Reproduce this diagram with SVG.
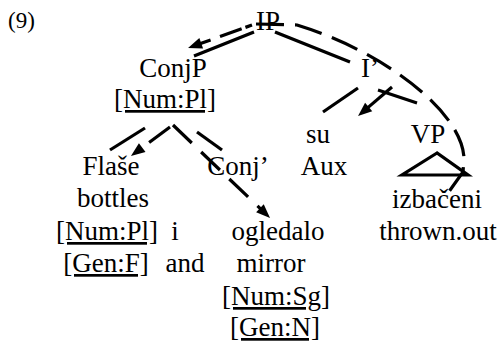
<svg xmlns="http://www.w3.org/2000/svg" width="504" height="344" viewBox="0 0 504 344">
<style>
text{font-family:'Liberation Serif',serif;font-size:27px;fill:#000;text-anchor:middle}
.u{text-decoration:underline}
.num{font-size:23px;text-anchor:start}
.e{stroke:#000;stroke-width:3.2;fill:none}
.d{stroke-dasharray:26 13}
</style>
<defs>
<marker id="ah" markerUnits="userSpaceOnUse" markerWidth="14" markerHeight="11" refX="3" refY="5.5" orient="auto" overflow="visible"><path d="M0,0L14,5.5L0,11z" fill="#000"/></marker>
</defs>
<g font-family="Liberation Serif">
<text class="num" x="8" y="28">(9)</text>
<g id="connectors">
<line class="e" x1="254" y1="32" x2="194" y2="56"/>
<line class="e" x1="252" y1="25" x2="198.4" y2="44.3" stroke-dasharray="7 4 23 10 40" marker-end="url(#ah)"/>
<line class="e" x1="275" y1="32" x2="350" y2="62"/>
<path class="e" d="M256,24 L297,25 C385,52 462,112 464,158 L463,172 L448,193" stroke-dasharray="28 11"/>
<line class="e" x1="358" y1="88" x2="323" y2="112"/>
<line class="e" x1="378" y1="90" x2="417" y2="103"/>
<line class="e" x1="392" y1="87" x2="366.4" y2="108.9" marker-end="url(#ah)"/>
<line class="e" x1="145" y1="128" x2="110" y2="150"/>
<line class="e" x1="170" y1="127" x2="139.8" y2="149.4" stroke-dasharray="26 20" marker-end="url(#ah)"/>
<line class="e" x1="197" y1="132" x2="222" y2="150"/>
<line class="e d" x1="173" y1="125" x2="262.1" y2="210.4" marker-end="url(#ah)"/>
<polygon class="e" points="437,153 402,175 468,175"/>
</g>
<g id="IP"><text x="268" y="30">IP</text></g>
<g id="ConjP"><text x="173" y="77">ConjP</text><text class="u" x="165" y="108">[Num:Pl]</text></g>
<g id="Ibar"><text x="370" y="77">I’</text></g>
<g id="su"><text x="318" y="143">su</text><text x="324" y="175">Aux</text></g>
<g id="VP"><text x="428" y="143">VP</text></g>
<g id="izbaceni"><text x="437" y="208">izbačeni</text><text x="438" y="240">thrown.out</text></g>
<g id="Flase"><text x="111" y="175">Flaše</text><text x="113" y="207">bottles</text><text class="u" x="107" y="240">[Num:Pl]</text><text class="u" x="106" y="272">[Gen:F]</text></g>
<g id="i"><text x="175" y="240">i</text><text x="185" y="272">and</text></g>
<g id="Conjbar"><text x="238" y="175">Conj’</text></g>
<g id="ogledalo"><text x="278" y="240">ogledalo</text><text x="271" y="272">mirror</text><text class="u" x="276" y="305">[Num:Sg]</text><text class="u" x="275" y="336">[Gen:N]</text></g>
</g>
</svg>
